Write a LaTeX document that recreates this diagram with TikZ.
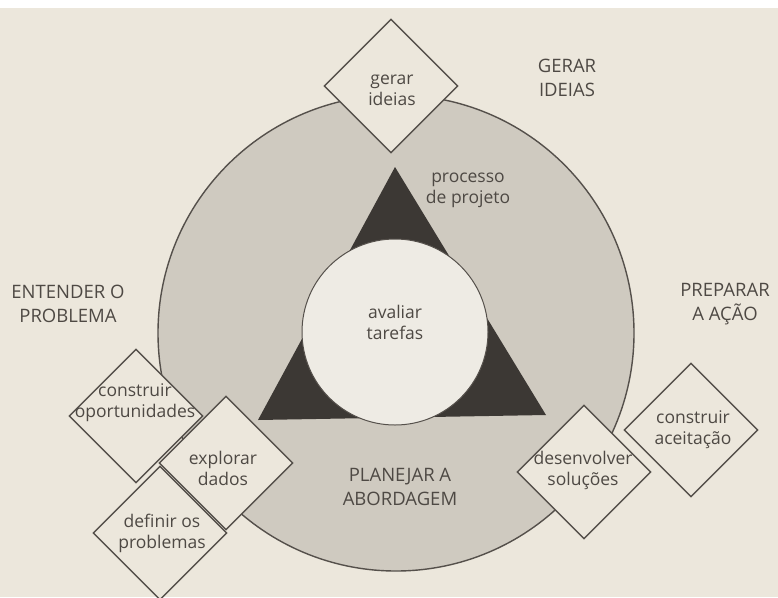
\documentclass[tikz,border=0pt]{standalone}
\usepackage{fontspec}
\setmainfont{Open Sans}
\usetikzlibrary{shapes.geometric}

\definecolor{papel}{RGB}{236,231,220}
\definecolor{cinza}{RGB}{207,202,192}
\definecolor{escuro}{RGB}{60,56,52}
\definecolor{claro}{RGB}{238,235,228}
\definecolor{linha}{RGB}{85,80,75}
\definecolor{tinta}{RGB}{78,73,68}

\begin{document}
\begin{tikzpicture}[x=1pt,y=-1pt,
  losango/.style={diamond, aspect=1, draw=linha, fill=papel, line width=1.4pt,
    minimum width=134pt, minimum height=134pt, inner sep=0pt},
  rotulo/.style={align=center, text=tinta, font=\fontsize{17.5}{21}\selectfont},
  fase/.style={align=center, text=tinta, font=\fontsize{18.5}{24}\selectfont}]
\fill[papel] (0,0) rectangle (778,597);
\fill[white] (0,0) rectangle (778,8);
\useasboundingbox (0,0) rectangle (778,597);

% roda e triangulo
\node[circle, draw=linha, fill=cinza, line width=1.4pt, minimum size=476pt, inner sep=0pt] (roda) at (396,333) {};
\coordinate (topo) at (395,167);
\coordinate (esq) at (258,420);
\coordinate (dir) at (546,415);
\fill[escuro] (topo) -- (esq) -- (dir) -- cycle;
\node[circle, draw=linha, fill=claro, line width=1pt, minimum size=186pt, inner sep=0pt] (centro) at (395,332) {};
\node[rotulo] (avaliar) at (395,322) {avaliar\\tarefas};
\node[rotulo] (processo) at (468,190) {processo\\de projeto};

% losangos
\node[losango] (gerar) at (391,86) {};
\node[rotulo] (t-gerar) at (392,90) {gerar\\ideias};

\node[losango] (oport) at (136,416) {};
\node[rotulo] (t-oport) at (135,403) {construir\\oportunidades};
\node[losango] (definir) at (160,533) {};
\node[rotulo] (t-definir) at (162,533) {definir os\\problemas};
\node[losango] (explorar) at (226,463) {};
\node[rotulo] (t-explorar) at (223,468) {explorar\\dados};

\node[losango] (desenv) at (584,472) {};
\node[rotulo] (t-desenv) at (583,470) {desenvolver\\soluções};
\node[losango] (aceit) at (691,430) {};
\node[rotulo] (t-aceit) at (693,430) {construir\\aceitação};

% fases
\node[fase] (f-gerar) at (567,78) {GERAR\\IDEIAS};
\node[fase] (f-entender) at (68,304) {ENTENDER O\\PROBLEMA};
\node[fase] (f-preparar) at (725,304) {PREPARAR\\A AÇÃO};
\node[fase] (f-planejar) at (400,487) {PLANEJAR A\\ABORDAGEM};
\end{tikzpicture}
\end{document}
